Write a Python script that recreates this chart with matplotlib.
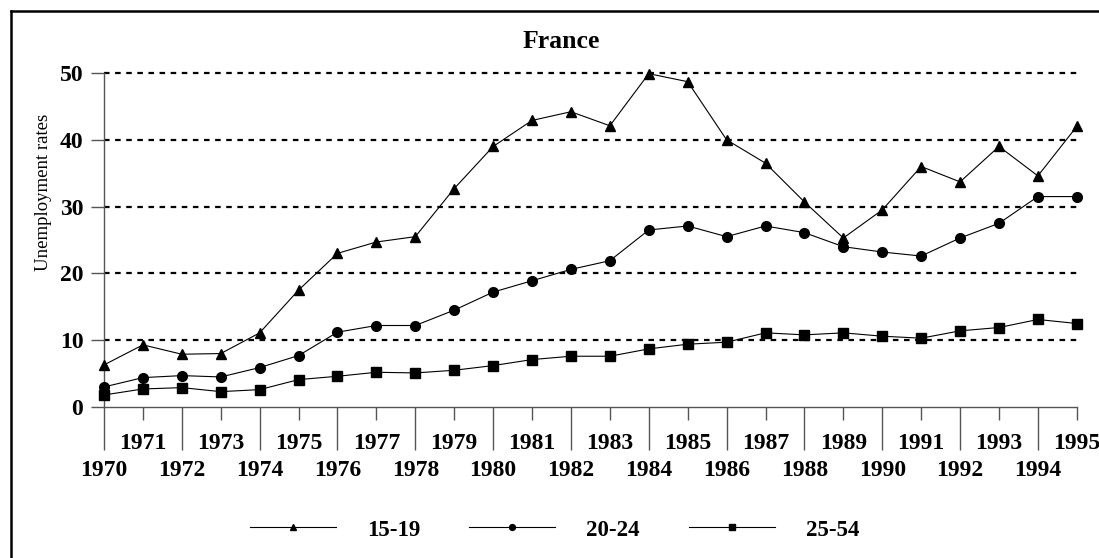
import matplotlib.pyplot as plt
from matplotlib.lines import Line2D
import numpy as np

# Данные: уровень безработицы во Франции по возрастным группам
years = list(range(1970, 1996))
rate_15_19 = [6.3, 9.3, 7.9, 8.0, 11.1, 17.5, 23.0, 24.7, 25.5, 32.7, 39.0, 42.9, 44.2,
              42.1, 49.9, 48.7, 40.0, 36.5, 30.7, 25.3, 29.5, 36.0, 33.7, 39.0, 34.6, 42.0]
rate_20_24 = [3.0, 4.4, 4.7, 4.5, 5.9, 7.7, 11.2, 12.2, 12.2, 14.5, 17.2, 18.9, 20.6,
              21.9, 26.5, 27.1, 25.5, 27.1, 26.1, 24.0, 23.2, 22.6, 25.3, 27.5, 31.5, 31.5]
rate_25_54 = [1.8, 2.7, 2.9, 2.3, 2.6, 4.1, 4.6, 5.2, 5.1, 5.5, 6.2, 7.1, 7.6,
              7.6, 8.7, 9.4, 9.7, 11.1, 10.8, 11.1, 10.6, 10.3, 11.4, 11.9, 13.1, 12.5]
series_labels = ['15-19', '20-24', '25-54']
y_ticks = [0, 10, 20, 30, 40, 50]

plt.rcParams['font.family'] = ['Liberation Serif', 'DejaVu Serif']

W, H = 1099, 558
fig = plt.figure(figsize=(W / 100, H / 100), dpi=100)
ax = fig.add_axes([104 / W, 1 - 407 / H, (1076.8 - 104) / W, (407 - 73) / H])

axis_col = '#555555'
styles = [('^', 7.5), ('o', 7), ('s', 6.5)]
for vals, lab, (mk, ms) in zip([rate_15_19, rate_20_24, rate_25_54], series_labels, styles):
    ax.plot(years, vals, color='black', lw=0.8, marker=mk, ms=ms,
            label=lab, clip_on=False, zorder=3)

ax.set_xlim(1970, 1995)
ax.set_ylim(0, 50)

# пунктирная сетка
for v in y_ticks[1:]:
    ax.axhline(v, color='black', lw=1.6, linestyle=(0, (2.5, 2.5)), zorder=1, clip_on=False)

for s in ['top', 'right']:
    ax.spines[s].set_visible(False)
for s in ['left', 'bottom']:
    ax.spines[s].set_color(axis_col)
    ax.spines[s].set_linewidth(1.0)

ax.set_yticks(y_ticks)
ax.set_yticklabels([str(v) for v in y_ticks], fontsize=17, fontweight='bold')
ax.tick_params(axis='y', length=9.4, width=1, color=axis_col, pad=5.5)

even_years = [y for y in years if y % 2 == 0]
odd_years = [y for y in years if y % 2 == 1]
ax.set_xticks(even_years)
ax.set_xticklabels([str(y) for y in even_years], fontsize=17, fontweight='bold')
ax.set_xticks(odd_years, minor=True)
ax.set_xticklabels([str(y) for y in odd_years], minor=True, fontsize=17, fontweight='bold')
ax.tick_params(axis='x', which='major', length=31, width=1, color=axis_col, pad=7.5)
ax.tick_params(axis='x', which='minor', length=9.4, width=1, color=axis_col, pad=9)

fig.text(44 / W, 1 - 192 / H, 'Unemployment rates', rotation=90, fontsize=13.5,
         ha='center', va='center')
fig.text(561 / W, 1 - 41 / H, 'France', fontsize=18.5, fontweight='bold',
         ha='center', va='center')

leg = fig.legend(loc='center', bbox_to_anchor=(554.5 / W, 1 - 530 / H), ncol=3,
                 frameon=False, handlelength=3.75, handletextpad=1.35,
                 columnspacing=2.15, markerscale=0.6,
                 prop={'size': 16.5, 'weight': 'bold'})

# рамка
fig.add_artist(Line2D([11 / W, 1], [1 - 11 / H, 1 - 11 / H], color='black', lw=1.8))
fig.add_artist(Line2D([11 / W, 11 / W], [0, 1 - 11 / H], color='black', lw=1.8))

fig.savefig('out.png', dpi=100)
